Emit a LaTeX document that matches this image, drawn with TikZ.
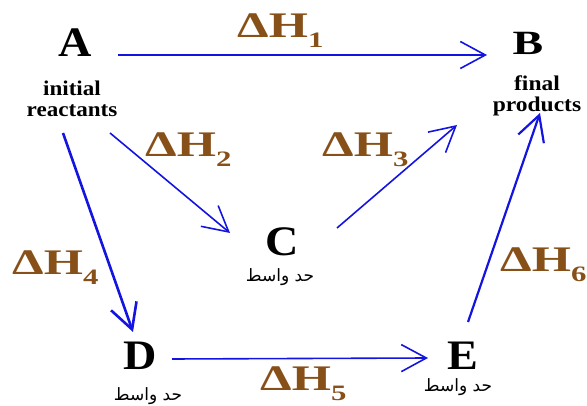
\documentclass[tikz,border=0pt]{standalone}
\usepackage{fontspec}
\usepackage{graphicx}
\setmainfont{Liberation Serif}
\newfontfamily\arabicfont[Script=Arabic]{DejaVu Sans}
\TeXXeTstate=1
\usetikzlibrary{arrows.meta}
\definecolor{pathblue}{RGB}{20,20,225}
\definecolor{enthbrown}{RGB}{135,80,25}
\newcommand{\dH}[1]{\scalebox{1.4}[1]{ΔH\raisebox{-10pt}{\fontsize{22}{22}\selectfont #1}}}
\newcommand{\wide}[2]{\scalebox{#1}[1]{#2}}

\begin{document}
\begin{tikzpicture}[
    x=1pt, y=1pt,
    state/.style={font=\fontsize{42}{42}\selectfont\bfseries, inner sep=0},
    sub/.style={font=\fontsize{21}{21}\selectfont\bfseries, align=center, inner sep=0, anchor=base},
    mid/.style={font=\arabicfont\fontsize{17}{17}\selectfont, inner sep=0},
    enth/.style={text=enthbrown, font=\fontsize{36}{36}\selectfont\bfseries, inner sep=0, anchor=base west},
    flow/.style={draw=pathblue, line width=1.6pt, -{Straight Barb[length=25pt,width=27pt]}}
]
\useasboundingbox (0,0) rectangle (587,-406);

% states
\node[state] (A) at (75,-43) {\wide{1.1}{A}};
\node[state, font=\fontsize{34}{34}\selectfont\bfseries] (B) at (528,-43) {\wide{1.35}{B}};
\node[state] (C) at (282,-242) {\wide{1.1}{C}};
\node[state] (D) at (140,-356) {\wide{1.1}{D}};
\node[state] (E) at (463,-356) {\wide{1.1}{E}};

% labels under the states
\node[sub] (Alab) at (72,-117) {\wide{1.1}{initial}\\\wide{1.1}{reactants}};
\node[sub] (Blab) at (537,-112) {\wide{1.12}{final}\\\wide{1.12}{products}};
\node[mid] (Clab) at (280,-277) {\beginR حد واسط\endR};
\node[mid] (Dlab) at (148,-396) {\beginR حد واسط\endR};
\node[mid] (Elab) at (458,-387) {\beginR حد واسط\endR};

% A -> B directly
\draw[flow] ([shift={(43,-12)}]A.center) -- ([shift={(-41,-12)}]B.center);
\node[enth] (h1) at (237,-38) {\dH{1}};

% A -> C -> B
\draw[flow] ([shift={(35,-90)}]A.center) -- ([shift={(-52,9)}]C.center);
\draw[flow] ([shift={(55,14)}]C.center) -- ([shift={(-71,-82)}]B.center);
\node[enth] (h2) at (145,-157) {\dH{2}};
\node[enth] (h3) at (322,-157) {\dH{3}};

% A -> D -> E -> B
\draw[flow, line width=2.6pt] ([shift={(-12,-90)}]A.center) -- ([shift={(-7,24)}]D.center);
\draw[flow] ([shift={(32,-3)}]D.center) -- ([shift={(-35,-2)}]E.center);
\draw[flow, line width=2.2pt] ([shift={(5,34)}]E.center) -- ([shift={(12,-70)}]B.center);
\node[enth] (h4) at (12,-275) {\dH{4}};
\node[enth] (h5) at (260,-390) {\dH{5}};
\node[enth] (h6) at (500,-272) {\dH{6}};

\end{tikzpicture}
\end{document}
